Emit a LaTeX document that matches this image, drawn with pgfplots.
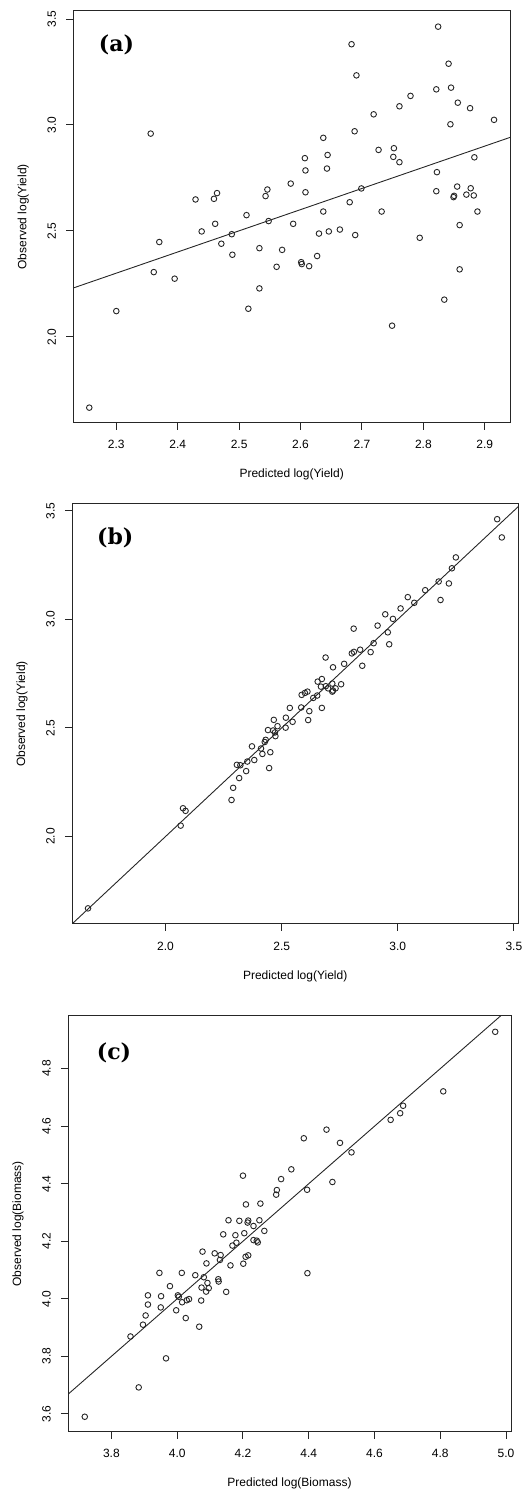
\documentclass[border=0pt]{standalone}
\usepackage{fontspec}
\setmainfont{Liberation Sans}
\newfontfamily\panelfont{DejaVu Serif}
\usepackage{pgfplots}
\pgfplotsset{compat=1.18}

% R-like scatter style; layout measured in pixels of the reference, 1px = 0.5pt
\pgfplotsset{
  rstyle/.style={
    scale only axis,
    anchor=south west,
    axis line style={line width=0.5pt, black!85},
    tick align=outside,
    major tick length=3.5pt,
    tick style={line width=0.5pt, black!85},
    xtick pos=bottom, ytick pos=left,
    tick label style={font=\fontsize{6}{7}\selectfont},
    /pgf/number format/assume math mode=true,
    /pgf/number format/.cd, fixed, fixed zerofill, precision=1, /pgfplots/.cd,
    xticklabel style={anchor=center, yshift=-7.5pt},
    yticklabel style={anchor=center, xshift=-7.3pt, rotate=90},
    every axis x label/.style={at={([yshift=-26pt]axis description cs:0.5,0)}, anchor=center, font=\fontsize{6}{7}\selectfont},
    every axis y label/.style={at={([xshift=-25pt]axis description cs:0,0.5)}, rotate=90, anchor=center, font=\fontsize{6}{7}\selectfont},
    clip=true,
  },
  pts/.style={only marks, mark=o, mark size=1.4pt, mark options={line width=0.45pt, black!85}},
  oneone/.style={line width=0.45pt, black!85},
}

\begin{document}
\begin{tikzpicture}
\useasboundingbox (0pt,0pt) rectangle (264pt,746pt);

% ---------------- (a)
\begin{axis}[rstyle,
  at={(36.65pt,534.65pt)}, width=218.35pt, height=205.85pt,
  xmin=2.230, xmax=2.941, ymin=1.594, ymax=3.538,
  xtick={2.3,2.4,2.5,2.6,2.7,2.8,2.9}, ytick={2.0,2.5,3.0,3.5},
  xlabel={Predicted log(Yield)}, ylabel={Observed log(Yield)},
]
\addplot[oneone] coordinates {(2.230,2.230) (2.941,2.941)};
\addplot[pts] coordinates {
(2.356,2.959) (2.370,2.447) (2.429,2.648) (2.439,2.497) (2.459,2.651)
(2.464,2.678) (2.461,2.533) (2.471,2.439) (2.488,2.484) (2.512,2.574)
(2.533,2.418) (2.543,2.664) (2.546,2.695) (2.548,2.546) (2.570,2.410)
(2.584,2.723) (2.588,2.533) (2.607,2.843) (2.608,2.785) (2.608,2.682)
(2.630,2.487) (2.637,2.939) (2.637,2.591) (2.644,2.858) (2.643,2.794)
(2.646,2.497) (2.664,2.506) (2.680,2.635) (2.683,3.381) (2.691,3.234)
(2.688,2.970) (2.689,2.480) (2.699,2.700) (2.719,3.050) (2.727,2.882)
(2.732,2.591) (2.752,2.890) (2.751,2.849) (2.761,2.824) (2.761,3.088)
(2.779,3.137) (2.794,2.467) (2.824,3.464) (2.821,3.168) (2.822,2.777)
(2.821,2.687) (2.841,3.289) (2.844,3.003) (2.845,3.176) (2.856,3.105)
(2.876,3.079) (2.855,2.709) (2.850,2.665) (2.849,2.659) (2.877,2.701)
(2.870,2.671) (2.882,2.667) (2.883,2.847) (2.888,2.591) (2.859,2.527)
(2.915,3.024) (2.489,2.387) (2.361,2.305) (2.395,2.274) (2.561,2.330)
(2.601,2.352) (2.602,2.343) (2.614,2.333) (2.627,2.381) (2.533,2.228)
(2.300,2.121) (2.515,2.132) (2.749,2.052) (2.834,2.175) (2.859,2.318)
(2.256,1.665)
};
\end{axis}
\node[font=\panelfont\bfseries\fontsize{11}{13}\selectfont] at (58.25pt,723.5pt) {(a)};

% ---------------- (b)
\begin{axis}[rstyle,
  at={(36pt,284pt)}, width=223.15pt, height=210pt,
  xmin=1.597, xmax=3.519, ymin=1.597, ymax=3.531,
  xtick={2.0,2.5,3.0,3.5}, ytick={2.0,2.5,3.0,3.5},
  xlabel={Predicted log(Yield)}, ylabel={Observed log(Yield)},
]
\addplot[oneone] coordinates {(1.597,1.597) (3.531,3.531)};
\addplot[pts] coordinates {
(3.428,3.461) (3.448,3.377) (3.250,3.285) (3.233,3.235) (3.176,3.174)
(3.220,3.165) (3.184,3.089) (3.118,3.134) (3.043,3.102) (3.071,3.076)
(3.012,3.050) (2.946,3.023) (2.979,3.002) (2.913,2.971) (2.957,2.940)
(2.963,2.885) (2.896,2.890) (2.883,2.849) (2.810,2.957) (2.802,2.843)
(2.811,2.850) (2.838,2.860) (2.847,2.786) (2.769,2.795) (2.689,2.824)
(2.721,2.779) (2.756,2.701) (2.673,2.725) (2.655,2.713) (2.669,2.690)
(2.690,2.692) (2.700,2.682) (2.718,2.704) (2.721,2.672) (2.732,2.682)
(2.718,2.667) (2.586,2.652) (2.600,2.661) (2.611,2.667) (2.636,2.638)
(2.653,2.649) (2.673,2.592) (2.584,2.594) (2.619,2.577) (2.535,2.592)
(2.614,2.536) (2.547,2.528) (2.518,2.547) (2.466,2.537) (2.517,2.501)
(2.482,2.508) (2.441,2.490) (2.463,2.488) (2.471,2.479) (2.473,2.462)
(2.431,2.445) (2.427,2.435) (2.372,2.415) (2.411,2.405) (2.451,2.388)
(2.417,2.380) (2.382,2.352) (2.352,2.345) (2.307,2.330) (2.322,2.328)
(2.347,2.301) (2.446,2.315) (2.317,2.269) (2.291,2.224) (2.284,2.168)
(2.075,2.130) (2.086,2.118) (2.065,2.050) (1.666,1.669)
};
\end{axis}
\node[font=\panelfont\bfseries\fontsize{11}{13}\selectfont] at (57.65pt,477pt) {(b)};

% ---------------- (c)
\begin{axis}[rstyle,
  at={(34pt,30.15pt)}, width=221.5pt, height=207.85pt,
  xmin=3.668, xmax=5.015, ymin=3.538, ymax=4.983,
  xtick={3.8,4.0,4.2,4.4,4.6,4.8,5.0}, ytick={3.6,3.8,4.0,4.2,4.4,4.6,4.8},
  xlabel={Predicted log(Biomass)}, ylabel={Observed log(Biomass)},
]
\addplot[oneone] coordinates {(3.668,3.668) (5.015,5.015)};
\addplot[pts] coordinates {
(4.967,4.928) (4.809,4.721) (4.649,4.622) (4.678,4.645) (4.687,4.671)
(4.454,4.588) (4.385,4.558) (4.495,4.542) (4.530,4.509) (4.347,4.450)
(4.316,4.416) (4.200,4.428) (4.472,4.406) (4.395,4.379) (4.303,4.378)
(4.301,4.362) (4.209,4.328) (4.253,4.331) (4.156,4.273) (4.189,4.271)
(4.216,4.272) (4.214,4.265) (4.232,4.253) (4.250,4.273) (4.265,4.236)
(4.140,4.224) (4.177,4.221) (4.204,4.228)
(4.168,4.185) (4.180,4.195) (4.232,4.204) (4.245,4.196) (4.242,4.202)
(4.114,4.158) (4.132,4.152) (4.130,4.135) (4.077,4.164) (4.089,4.123)
(4.162,4.116) (4.201,4.122) (4.208,4.146) (4.216,4.151) (3.946,4.090)
(4.014,4.090) (4.055,4.082) (4.081,4.075) (4.125,4.068) (4.126,4.060)
(4.149,4.024) (4.092,4.055) (4.074,4.039) (4.096,4.037) (4.088,4.025)
(3.978,4.044) (3.911,4.012) (3.951,4.009) (4.002,4.012) (4.005,4.007)
(4.015,3.988) (4.029,3.995) (4.036,3.999) (4.073,3.994) (3.911,3.980)
(3.950,3.970) (3.997,3.960) (3.904,3.942) (4.026,3.933) (3.896,3.910)
(4.067,3.903) (3.858,3.869) (3.966,3.793) (3.883,3.692) (3.719,3.590)
(4.396,4.089)
};
\end{axis}
\node[font=\panelfont\bfseries\fontsize{11}{13}\selectfont] at (57pt,219.5pt) {(c)};
\end{tikzpicture}
\end{document}
